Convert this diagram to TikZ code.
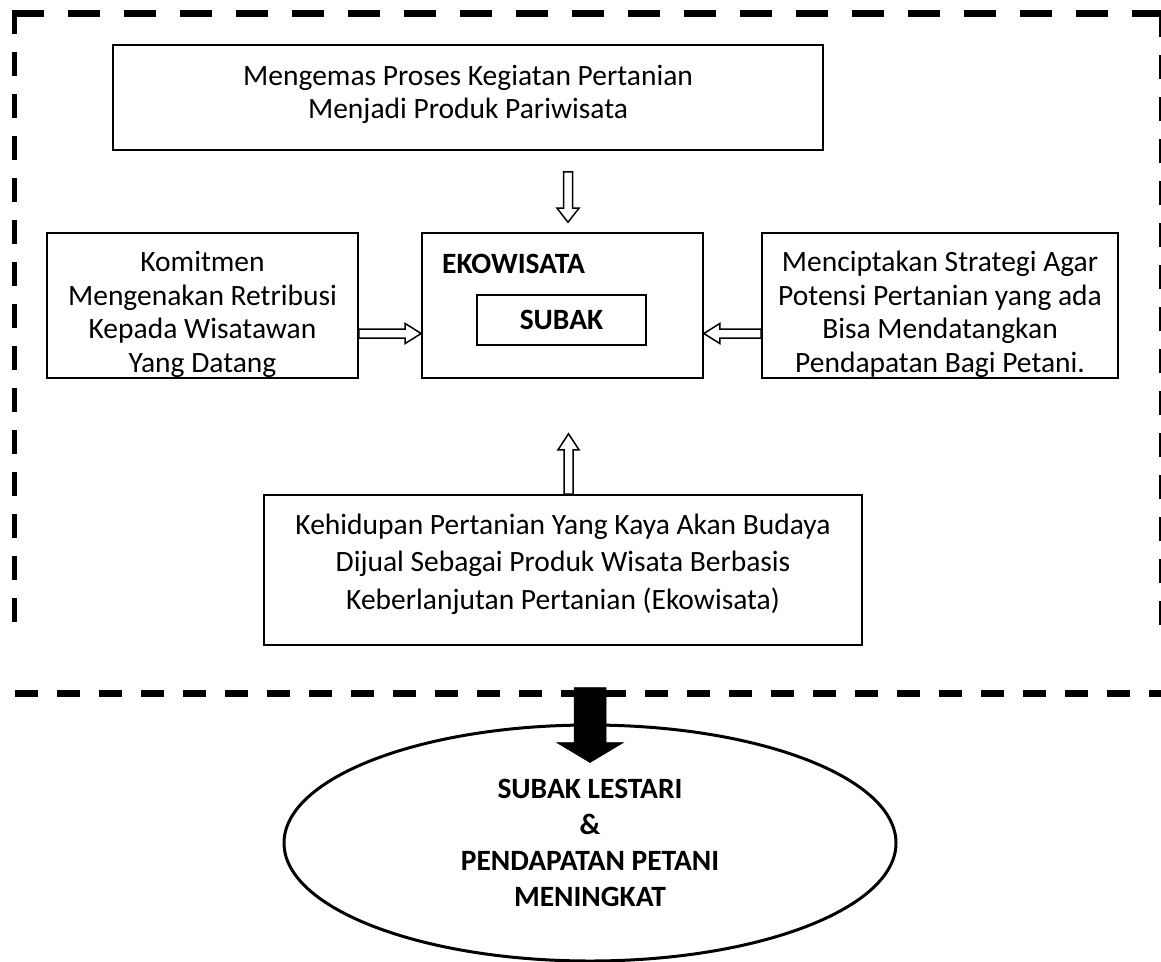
\documentclass[tikz,border=0pt]{standalone}
\usepackage{fontspec}
\setmainfont{Carlito}
\usetikzlibrary{calc,shapes.geometric}
% block arrow: style, from, to, shaft half width, head half width, head length
\newcommand\blockarrow[6]{%
  \coordinate (bah) at ($(#3)!#6!(#2)$);
  \draw[#1] ($(#2)!#4!90:(#3)$) -- ($(bah)!#4!-90:(#2)$) -- ($(bah)!#5!-90:(#2)$)
    -- (#3) -- ($(bah)!#5!90:(#2)$) -- ($(bah)!#4!90:(#2)$) -- ($(#2)!#4!-90:(#3)$) -- cycle;
}
\tikzset{
  box/.style={draw, line width=1.6pt, rectangle, inner sep=0pt},
  txt/.style={inner sep=0pt, align=center, font=\fontsize{29.5}{33.5}\selectfont},
  hollow/.style={draw, fill=white, line width=1.5pt, line join=miter},
  solid block/.style={draw, fill=black, line width=0.5pt},
}
\begin{document}
\begin{tikzpicture}[x=1pt,y=-1pt]
\useasboundingbox (0,0) rectangle (1161,961);
% dashed frame
\draw[line width=7pt, dash pattern=on 32pt off 24pt] (12,13) -- (1161,13);
\draw[line width=5pt, dash pattern=on 24pt off 18pt] (14.5,10) -- (14.5,626);
\draw[line width=5pt, dash pattern=on 24pt off 18pt] (1161.5,13) -- (1161.5,626);
\draw[line width=7pt, dash pattern=on 23pt off 19pt] (15,693) -- (1161,693);

% boxes
\node[box, minimum width=710pt, minimum height=105pt] (top) at (468,97.5) {};
\node[txt] (topt) at ($(top)+(0,-3)$)
  {Mengemas Proses Kegiatan Pertanian\\Menjadi Produk Pariwisata};
\node[box, minimum width=311pt, minimum height=145pt] (kom) at (202.5,305.5) {};
\node[txt] (komt) at ($(kom)+(0,9)$)
  {Komitmen\\Mengenakan Retribusi\\Kepada Wisatawan\\Yang Datang};
\node[box, minimum width=281pt, minimum height=145pt] (eko) at (562.5,305.5) {};
\node[txt, anchor=west, font=\fontsize{29.5}{33.5}\selectfont\bfseries] (ekot) at (442,264) {EKOWISATA};
\node[box, minimum width=169pt, minimum height=50pt, font=\fontsize{29.5}{33.5}\selectfont\bfseries] (subak) at (561.5,320) {SUBAK};
\node[box, minimum width=356pt, minimum height=145pt] (men) at (940,305.5) {};
\node[txt] (ment) at ($(men)+(0,9)$)
  {Menciptakan Strategi Agar\\Potensi Pertanian yang ada\\Bisa Mendatangkan\\Pendapatan Bagi Petani.};
\node[box, minimum width=598pt, minimum height=150pt] (keh) at (563,570) {};
\node[txt, font=\fontsize{29.5}{37.5}\selectfont] (keht) at ($(keh)+(0,-6)$)
  {Kehidupan Pertanian Yang Kaya Akan Budaya\\Dijual Sebagai Produk Wisata Berbasis\\Keberlanjutan Pertanian (Ekowisata)};
\node[draw, ellipse, line width=3pt, inner sep=0pt, minimum width=612pt, minimum height=236pt,
  align=center, font=\fontsize{29.5}{36}\selectfont\bfseries] (ell) at (590,843)
  {SUBAK LESTARI\\\&\\PENDAPATAN PETANI\\MENINGKAT};

% connectors
\coordinate (d1) at ($(top.south)+(100,21)$);
\coordinate (d2) at ($(eko.north)+(5.5,-10)$);
\blockarrow{hollow}{d1}{d2}{4.5pt}{11pt}{14pt}
\coordinate (r1) at ($(kom.east)+(0,28)$);
\coordinate (r2) at ($(eko.west)+(0,28)$);
\blockarrow{hollow}{r1}{r2}{4.5pt}{10pt}{16pt}
\coordinate (l1) at ($(men.west)+(0,28)$);
\coordinate (l2) at ($(eko.east)+(0,28)$);
\blockarrow{hollow}{l1}{l2}{4.5pt}{10pt}{16pt}
\coordinate (u1) at ($(keh.north)+(5.5,0)$);
\coordinate (u2) at ($(eko.south)+(6,55)$);
\blockarrow{hollow}{u1}{u2}{4.5pt}{10.5pt}{16pt}
\coordinate (b1) at ($(ell.north)+(0,-36)$);
\coordinate (b2) at ($(ell.north)+(0,39)$);
\blockarrow{solid block}{b1}{b2}{16pt}{33.5pt}{20pt}
\end{tikzpicture}
\end{document}
